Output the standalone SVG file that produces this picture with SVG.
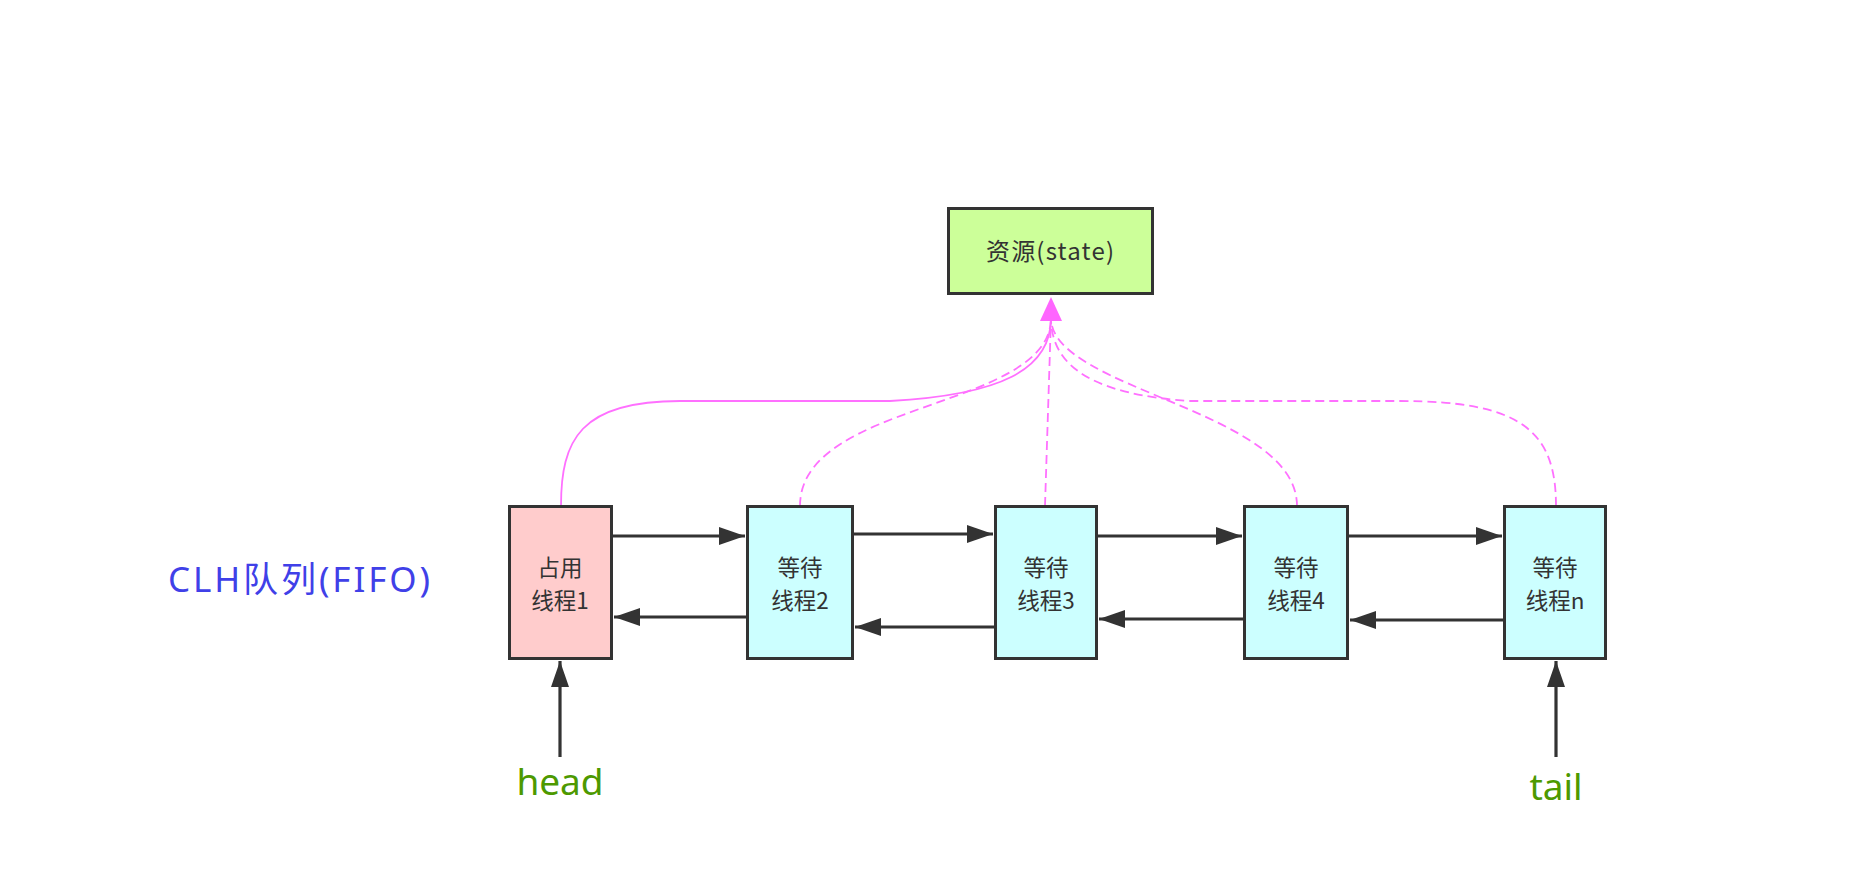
<svg xmlns="http://www.w3.org/2000/svg" width="1866" height="878" viewBox="0 0 1866 878">
<style>
.box{stroke:#333;stroke-width:3}
.t{font-family:"Noto Sans CJK SC","Noto Sans",sans-serif;font-size:22.5px;fill:#333;text-anchor:middle}
.lbl{font-family:"Noto Sans","Noto Sans CJK SC",sans-serif;font-size:37px;fill:#4D9900;text-anchor:middle}
.arr{stroke:#333;stroke-width:3.2;fill:none;marker-end:url(#ah)}
.pk{stroke:#FF70FF;stroke-width:1.8;fill:none}
.dash{stroke-dasharray:9 5}
</style>
<defs>
<marker id="ah" markerUnits="userSpaceOnUse" markerWidth="28" markerHeight="20" refX="26" refY="9" orient="auto">
<path d="M0,0 L26,9 L0,18 Z" fill="#333"/>
</marker>
</defs>
<rect width="1866" height="878" fill="#fff"/>
<g id="connectors">
<path class="pk" d="M561,506 C561,440 580,401 680,401 L890,401 C1000,395 1051,370 1051,318"/>
<path class="pk dash" d="M800,506 C800,400 1051,410 1051,318"/>
<path class="pk dash" d="M1045,506 L1051,318"/>
<path class="pk dash" d="M1297,506 C1297,410 1051,390 1051,318"/>
<path class="pk dash" d="M1556,506 C1556,430 1520,401 1400,401 L1190,401 C1100,395 1051,370 1051,318"/>
<polygon points="1051,297 1062,321 1040,321" fill="#FF66FF"/>
<line class="arr" x1="613" y1="536" x2="745" y2="536"/>
<line class="arr" x1="854" y1="534" x2="993" y2="534"/>
<line class="arr" x1="1098" y1="536" x2="1242" y2="536"/>
<line class="arr" x1="1349" y1="536" x2="1502" y2="536"/>
<line class="arr" x1="746" y1="617" x2="614" y2="617"/>
<line class="arr" x1="994" y1="627" x2="855" y2="627"/>
<line class="arr" x1="1243" y1="619" x2="1099" y2="619"/>
<line class="arr" x1="1503" y1="620" x2="1350" y2="620"/>
<line class="arr" x1="560" y1="757" x2="560" y2="661"/>
<line class="arr" x1="1556" y1="757" x2="1556" y2="661"/>
</g>
<g id="state">
<rect class="box" x="948.5" y="208.5" width="204" height="85" fill="#CCFF99"/>
<text class="t" x="1050" y="260" font-size="24" textLength="128" lengthAdjust="spacing" style="font-size:24px">资源(state)</text>
</g>
<g id="node1">
<rect class="box" x="509.5" y="506.5" width="102" height="152" fill="#FFCCCC"/>
<text class="t" x="560" y="576">占用</text>
<text class="t" x="560" y="609">线程1</text>
</g>
<g id="node2">
<rect class="box" x="747.5" y="506.5" width="105" height="152" fill="#CCFFFF"/>
<text class="t" x="800" y="576">等待</text>
<text class="t" x="800" y="609">线程2</text>
</g>
<g id="node3">
<rect class="box" x="995.5" y="506.5" width="101" height="152" fill="#CCFFFF"/>
<text class="t" x="1046" y="576">等待</text>
<text class="t" x="1046" y="609">线程3</text>
</g>
<g id="node4">
<rect class="box" x="1244.5" y="506.5" width="103" height="152" fill="#CCFFFF"/>
<text class="t" x="1296" y="576">等待</text>
<text class="t" x="1296" y="609">线程4</text>
</g>
<g id="node5">
<rect class="box" x="1504.5" y="506.5" width="101" height="152" fill="#CCFFFF"/>
<text class="t" x="1555" y="576">等待</text>
<text class="t" x="1555" y="609">线程n</text>
</g>
<g id="labels">
<text x="168" y="592" font-family="'Noto Sans','Noto Sans CJK SC',sans-serif" font-size="35" fill="#4040E8" textLength="262" lengthAdjust="spacing">CLH队列(FIFO)</text>
<text class="lbl" x="560" y="795">head</text>
<text class="lbl" x="1556" y="800">tail</text>
</g>
</svg>
